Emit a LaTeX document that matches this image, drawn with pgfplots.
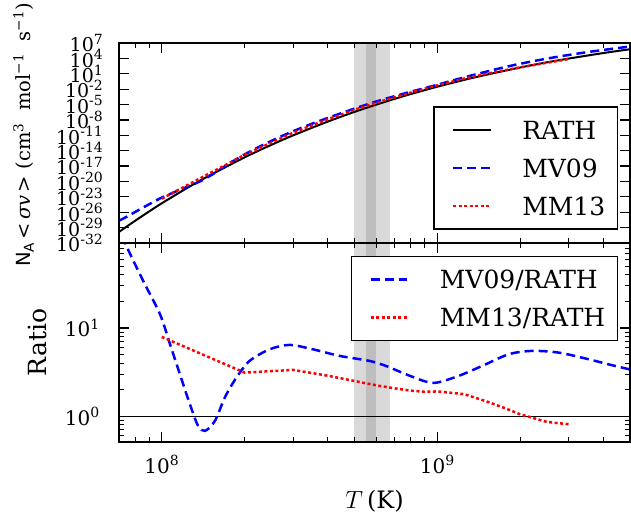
\documentclass[border=0pt]{standalone}
\usepackage{fontspec}
\setmainfont{DejaVu Serif}
\setsansfont{DejaVu Sans}
\usepackage{pgfplots}
\pgfplotsset{compat=1.18}

\definecolor{bandlight}{RGB}{217,217,217}
\definecolor{banddark}{RGB}{190,190,190}

% power-of-ten label for the rate axis
\newcommand{\pten}[1]{{\fontsize{19}{19}\selectfont 10\raisebox{7.5pt}{\fontsize{14}{14}\selectfont #1}}}

\tikzset{
  rathline/.style={black, line width=2pt},
  mvline/.style={blue, line width=2.5pt, dash pattern=on 9pt off 5pt},
  mmline/.style={red, line width=2.5pt, dash pattern=on 3pt off 2.5pt},
}

\pgfplotsset{
  every axis/.append style={
    scale only axis,
    width=511pt,
    axis on top,
    axis line style={line width=1.5pt},
    tick align=inside,
    major tick length=10pt, minor tick length=5pt,
    every major tick/.append style={line width=1.2pt, black},
    every minor tick/.append style={line width=1pt, black},
    tick label style={font=\fontsize{20}{20}\selectfont},
    legend cell align=left,
    legend style={draw=black, line width=1.5pt, fill=white,
      font=\fontsize{25}{25}\selectfont,
      inner xsep=12pt, inner ysep=14pt,
      row sep=20pt, column sep=30pt,
      nodes={inner sep=0pt, text height=18pt, text depth=0pt}},
  },
}

\begin{document}
\begin{tikzpicture}

% reaction rates (log10 of N_A<sigma v>)
\begin{axis}[name=top,
  height=200pt,
  xmode=log, xmin=7e7, xmax=5e9,
  xtick={1e8,1e9},
  minor xtick={8e7,9e7,2e8,3e8,4e8,5e8,6e8,7e8,8e8,9e8,2e9,3e9,4e9},
  xticklabels={},
  ymin=-32, ymax=7,
  ytick={-32,-29,...,7},
  yticklabels={\pten{-32},\pten{-29},\pten{-26},\pten{-23},\pten{-20},\pten{-17},\pten{-14},\pten{-11},\pten{-8},\pten{-5},\pten{-2},\pten{1},\pten{4},\pten{7}},
  yticklabel style={inner sep=0pt, anchor=east, xshift=-16pt},
  ylabel={{\sffamily N\textsubscript{A}}\,<\,\textit{σv}\,>\ (cm\textsuperscript{3}\ \ mol\textsuperscript{−1}\ \ s\textsuperscript{−1})},
  ylabel style={at={([xshift=-106pt,yshift=8pt]rel axis cs:0,0.5)}, anchor=north, inner sep=0pt, font=\fontsize{19.5}{19.5}\selectfont},
  legend image code/.code={\path (0pt,0pt); \draw[#1] (6pt,0pt) -- (44pt,0pt);},
  legend style={at={([xshift=-12pt,yshift=13pt]rel axis cs:1,0)}, anchor=south east},
]
\addplot[forget plot, fill=bandlight, draw=none] coordinates {(5e8,-32) (6.75e8,-32) (6.75e8,7) (5e8,7)} -- cycle;
\addplot[forget plot, fill=banddark, draw=none] coordinates {(5.5e8,-32) (6e8,-32) (6e8,7) (5.5e8,7)} -- cycle;

\addplot[rathline, smooth] coordinates {
(7e7,-29.84) (8e7,-27.68) (9e7,-25.85) (1e8,-24.26) (1.25e8,-21.13) (1.5e8,-18.76)
(2e8,-15.29) (2.5e8,-12.85) (3e8,-11.00) (4e8,-8.33) (5e8,-6.44) (6e8,-5.02)
(7e8,-3.89) (8e8,-2.96) (1e9,-1.52) (1.25e9,-0.20) (1.5e9,0.79) (2e9,2.23)
(2.5e9,3.23) (3e9,3.97) (4e9,5.04) (5e9,5.78)};
\addlegendentry{RATH}

\addplot[mvline, smooth] coordinates {
(7.015e7,-27.62) (7.36e7,-27.05) (8.57e7,-25.07) (9.86e7,-23.31) (1.072e8,-22.45)
(1.164e8,-21.62) (1.265e8,-20.83) (1.355e8,-20.16) (1.436e8,-19.47) (1.560e8,-18.31)
(1.694e8,-17.03) (1.866e8,-15.65) (2.084e8,-14.20) (2.466e8,-12.24) (2.911e8,-10.49)
(3.532e8,-8.69) (4.416e8,-6.80) (5.662e8,-4.83) (6.501e8,-3.86) (7.691e8,-2.76)
(9.078e8,-1.74) (1e9,-1.14) (1.197e9,0.02) (1.455e9,1.21) (1.816e9,2.47)
(2.203e9,3.41) (2.754e9,4.35) (3.532e9,5.25) (4.169e9,5.77) (4.977e9,6.30)};
\addlegendentry{MV09}

\addplot[mmline] coordinates {
(1e8,-23.36) (2e8,-14.80) (3e8,-10.48) (4e8,-7.87) (5e8,-6.04) (6e8,-4.67)
(7e8,-3.58) (8e8,-2.67) (9e8,-1.91) (1e9,-1.24) (1.25e9,0.05) (1.5e9,0.96)
(1.75e9,1.67) (2e9,2.25) (2.5e9,3.16) (3e9,3.88)};
\addlegendentry{MM13}
\end{axis}

% ratios to RATH
\begin{axis}[name=bot,
  at={(top.south west)}, anchor=north west,
  height=199pt,
  xmode=log, xmin=7e7, xmax=5e9,
  xtick={1e8,1e9},
  minor xtick={8e7,9e7,2e8,3e8,4e8,5e8,6e8,7e8,8e8,9e8,2e9,3e9,4e9},
  xticklabels={10\textsuperscript{8},10\textsuperscript{9}},
  xticklabel style={inner sep=0pt, anchor=north, yshift=-13pt},
  ymode=log, ymin=0.51, ymax=92,
  ytick={1,10},
  yticklabels={10\textsuperscript{0},10\textsuperscript{1}},
  minor ytick={0.6,0.7,0.8,0.9,2,3,4,5,6,7,8,9,20,30,40,50,60,70,80,90},
  yticklabel style={inner sep=0pt, anchor=east, xshift=-19pt},
  xlabel={$T$\,(K)},
  xlabel style={at={([yshift=-48pt]rel axis cs:0.5,0)}, anchor=north, inner sep=0pt, font=\fontsize{24}{24}\selectfont},
  ylabel={Ratio},
  ylabel style={at={([xshift=-91pt]rel axis cs:0,0.5)}, anchor=north, inner sep=0pt, font=\fontsize{25}{25}\selectfont},
  legend image code/.code={\path (0pt,0pt); \draw[#1] (6pt,0pt) -- (42pt,0pt);},
  legend style={at={([xshift=-12pt,yshift=-13pt]rel axis cs:1,1)}, anchor=north east, column sep=32pt},
]
\addplot[forget plot, fill=bandlight, draw=none] coordinates {(5e8,0.51) (6.75e8,0.51) (6.75e8,92) (5e8,92)} -- cycle;
\addplot[forget plot, fill=banddark, draw=none] coordinates {(5.5e8,0.51) (6e8,0.51) (6e8,92) (5.5e8,92)} -- cycle;
\addplot[forget plot, black, line width=1pt] coordinates {(7e7,1) (5e9,1)};

\addplot[mvline, smooth] coordinates {
(7.015e7,158) (7.36e7,92.7) (8.57e7,34.1) (9.86e7,14.3) (1.072e8,6.53)
(1.164e8,2.99) (1.265e8,1.37) (1.355e8,0.778) (1.436e8,0.682) (1.560e8,0.885)
(1.694e8,1.63) (1.866e8,2.74) (2.084e8,4.24) (2.466e8,5.74) (2.911e8,6.43)
(3.532e8,5.74) (4.416e8,4.83) (5.662e8,4.24) (6.501e8,3.72) (7.691e8,2.99)
(9.078e8,2.47) (1e9,2.41) (1.197e9,2.87) (1.455e9,3.72) (1.816e9,5.04)
(2.203e9,5.50) (2.754e9,5.26) (3.532e9,4.43) (4.169e9,3.88) (4.977e9,3.40)};
\addlegendentry{MV09/RATH}

\addplot[mmline] coordinates {
(1e8,7.93) (2e8,3.12) (3e8,3.35) (4e8,2.88) (5e8,2.51) (6e8,2.24)
(7e8,2.07) (8e8,1.95) (9e8,1.89) (1e9,1.91) (1.25e9,1.78) (1.5e9,1.48)
(1.75e9,1.24) (2e9,1.05) (2.5e9,0.86) (3e9,0.81)};
\addlegendentry{MM13/RATH}
\end{axis}

\pgfresetboundingbox
\path[use as bounding box] ([xshift=-119pt,yshift=43pt]top.north west) rectangle ([xshift=1pt,yshift=-81pt]bot.south east);
\end{tikzpicture}
\end{document}
